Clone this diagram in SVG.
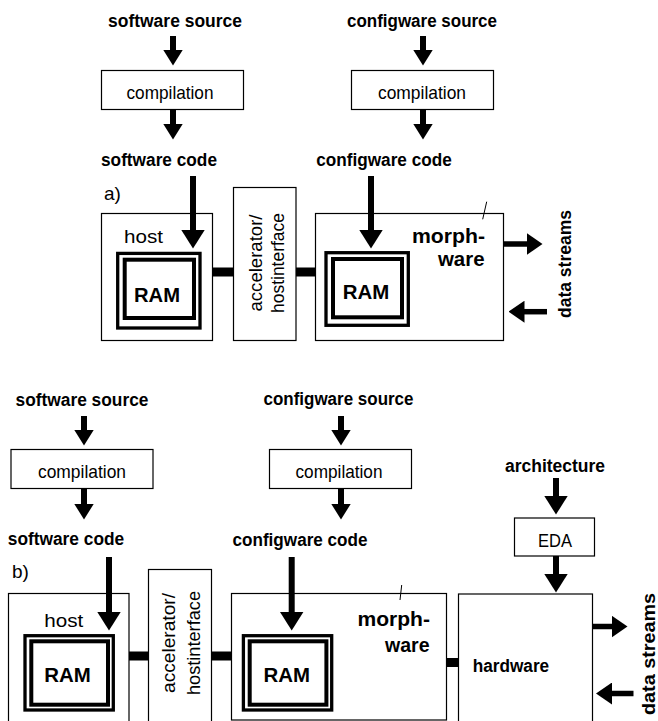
<svg xmlns="http://www.w3.org/2000/svg" width="658" height="721" viewBox="0 0 658 721">
  <style>
    text { font-family: "Liberation Sans", Arial, Helvetica, sans-serif; fill: #000; }
    .b { font-weight: bold; font-size: 18px; }
    .r { font-size: 19px; }
    .ram { font-weight: bold; font-size: 21px; text-anchor: middle; }
    .mw { font-weight: bold; font-size: 21px; text-anchor: end; }
    .c { text-anchor: middle; }
    .box { fill: #fff; stroke: #000; stroke-width: 1.2; }
    .ramo { fill: none; stroke: #000; stroke-width: 3.3; }
    .rami { fill: #fff; stroke: #000; stroke-width: 4; }
    .bar { fill: #000; }
    .shaft { stroke: #000; stroke-width: 6; fill: none; }
    .ds { stroke: #000; stroke-width: 5.5; fill: none; }
    .tick { stroke: #000; stroke-width: 1; }
  </style>
  <defs>
    <marker id="hs" markerUnits="userSpaceOnUse" markerWidth="16" markerHeight="20" viewBox="0 0 16 20" refX="0.5" refY="10" orient="auto">
      <path d="M0,0 L16,10 L0,20 Z" fill="#000"/>
    </marker>
    <marker id="hl" markerUnits="userSpaceOnUse" markerWidth="19" markerHeight="24" viewBox="0 0 19 24" refX="0.5" refY="12" orient="auto">
      <path d="M0,0 L19,12 L0,24 Z" fill="#000"/>
    </marker>
    <marker id="hd" markerUnits="userSpaceOnUse" markerWidth="16" markerHeight="22" viewBox="0 0 16 22" refX="0.5" refY="11" orient="auto">
      <path d="M0,0 L16,11 L0,22 Z" fill="#000"/>
    </marker>
  </defs>

  <!-- ===== a) ===== -->
  <g id="a-sw-source"><text class="b c" x="175" y="27" textLength="134" lengthAdjust="spacingAndGlyphs">software source</text></g>
  <g id="a-sw-compile">
    <rect class="box" x="101.5" y="70.5" width="142" height="39"/>
    <text class="r c" x="170" y="99" textLength="87" lengthAdjust="spacingAndGlyphs">compilation</text>
  </g>
  <g id="a-sw-code"><text class="b c" x="159" y="166" textLength="116" lengthAdjust="spacingAndGlyphs">software code</text></g>
  <g id="a-label"><text class="r" x="104" y="200">a)</text></g>

  <g id="a-cw-source"><text class="b c" x="422" y="27" textLength="150" lengthAdjust="spacingAndGlyphs">configware source</text></g>
  <g id="a-cw-compile">
    <rect class="box" x="351.5" y="70.5" width="142" height="39"/>
    <text class="r c" x="422" y="99" textLength="88" lengthAdjust="spacingAndGlyphs">compilation</text>
  </g>
  <g id="a-cw-code"><text class="b c" x="384" y="166" textLength="135.5" lengthAdjust="spacingAndGlyphs">configware code</text></g>

  <g id="a-host">
    <rect class="box" x="101.5" y="213.5" width="111" height="127"/>
    <text class="r" x="124" y="243" textLength="39" lengthAdjust="spacingAndGlyphs">host</text>
    <rect class="ramo" x="117.7" y="253.4" width="82.3" height="74.6"/>
    <rect class="rami" x="124.7" y="259.7" width="69.3" height="58.3"/>
    <text class="ram" x="157" y="301.5" textLength="46" lengthAdjust="spacingAndGlyphs">RAM</text>
  </g>

  <g id="a-accel">
    <rect class="box" x="233.5" y="187.5" width="62.5" height="153"/>
    <text class="r c" transform="translate(261.5,263) rotate(-90)" textLength="97" lengthAdjust="spacingAndGlyphs">accelerator/</text>
    <text class="r c" transform="translate(283.5,263) rotate(-90)" textLength="100" lengthAdjust="spacingAndGlyphs">hostinterface</text>
  </g>

  <g id="a-morph">
    <rect class="box" x="315.5" y="213.5" width="188" height="127"/>
    <line class="tick" x1="486.7" y1="201.7" x2="482.7" y2="219.3"/>
    <text class="mw" x="485" y="242.5" textLength="73" lengthAdjust="spacingAndGlyphs">morph-</text>
    <text class="mw" x="484.5" y="266" textLength="46.5" lengthAdjust="spacingAndGlyphs">ware</text>
    <rect class="ramo" x="326" y="252.7" width="82.3" height="72.6"/>
    <rect class="rami" x="333" y="259" width="69" height="58.3"/>
    <text class="ram" x="366" y="298.5" textLength="46.5" lengthAdjust="spacingAndGlyphs">RAM</text>
  </g>

  <g id="a-streams"><text class="b c" transform="translate(571,264) rotate(-90)" textLength="108" lengthAdjust="spacingAndGlyphs">data streams</text></g>

  <!-- ===== b) ===== -->
  <g id="b-sw-source"><text class="b c" x="82" y="406" textLength="133" lengthAdjust="spacingAndGlyphs">software source</text></g>
  <g id="b-sw-compile">
    <rect class="box" x="11" y="449.5" width="142" height="39"/>
    <text class="r c" x="82" y="478" textLength="88" lengthAdjust="spacingAndGlyphs">compilation</text>
  </g>
  <g id="b-sw-code"><text class="b c" x="66" y="545" textLength="116.5" lengthAdjust="spacingAndGlyphs">software code</text></g>
  <g id="b-label"><text class="r" x="12" y="578">b)</text></g>

  <g id="b-cw-source"><text class="b c" x="338.5" y="405" textLength="150" lengthAdjust="spacingAndGlyphs">configware source</text></g>
  <g id="b-cw-compile">
    <rect class="box" x="269.5" y="449.5" width="142" height="39"/>
    <text class="r c" x="339" y="478" textLength="87" lengthAdjust="spacingAndGlyphs">compilation</text>
  </g>
  <g id="b-cw-code"><text class="b c" x="300" y="545.5" textLength="135" lengthAdjust="spacingAndGlyphs">configware code</text></g>

  <g id="b-arch"><text class="b c" x="555" y="471.5" textLength="100" lengthAdjust="spacingAndGlyphs">architecture</text></g>
  <g id="b-eda">
    <rect class="box" x="514.5" y="518" width="80" height="38"/>
    <text class="r c" x="555" y="546.5" textLength="34" lengthAdjust="spacingAndGlyphs">EDA</text>
  </g>

  <g id="b-host">
    <rect class="box" x="8.5" y="593.5" width="120.5" height="135"/>
    <text class="r" x="44.3" y="627" textLength="39" lengthAdjust="spacingAndGlyphs">host</text>
    <rect class="ramo" x="25" y="635.7" width="88.3" height="74.3"/>
    <rect class="rami" x="31.3" y="641.3" width="76.7" height="63.4"/>
    <text class="ram" x="67.5" y="682" textLength="46.5" lengthAdjust="spacingAndGlyphs">RAM</text>
  </g>

  <g id="b-accel">
    <rect class="box" x="148.5" y="569.5" width="63" height="160"/>
    <text class="r c" transform="translate(175,643) rotate(-90)" textLength="100" lengthAdjust="spacingAndGlyphs">accelerator/</text>
    <text class="r c" transform="translate(199.5,643) rotate(-90)" textLength="104" lengthAdjust="spacingAndGlyphs">hostinterface</text>
  </g>

  <g id="b-morph">
    <rect class="box" x="231.5" y="593.5" width="215" height="126.5"/>
    <line class="tick" x1="401.7" y1="585" x2="400" y2="600"/>
    <text class="mw" x="430" y="626" textLength="72.5" lengthAdjust="spacingAndGlyphs">morph-</text>
    <text class="mw" x="429.5" y="651.7" textLength="44.5" lengthAdjust="spacingAndGlyphs">ware</text>
    <rect class="ramo" x="243.4" y="635.7" width="88.3" height="74.3"/>
    <rect class="rami" x="249.7" y="641.3" width="76.7" height="63.4"/>
    <text class="ram" x="286.7" y="682" textLength="46.5" lengthAdjust="spacingAndGlyphs">RAM</text>
  </g>

  <g id="b-hardware">
    <rect class="box" x="458.5" y="594" width="134" height="135"/>
    <text class="b" x="472.7" y="671.7" textLength="76.5" lengthAdjust="spacingAndGlyphs">hardware</text>
  </g>

  <g id="b-streams"><text class="b c" transform="translate(655,654) rotate(-90)" style="font-size:19px" textLength="122" lengthAdjust="spacingAndGlyphs">data streams</text></g>

  <!-- ===== connectors ===== -->
  <g id="connectors">
    <!-- a) software flow -->
    <line class="shaft" x1="173" y1="36" x2="173" y2="50" marker-end="url(#hs)"/>
    <line class="shaft" x1="173" y1="109.5" x2="173" y2="124" marker-end="url(#hs)"/>
    <line class="shaft" x1="193" y1="176" x2="193" y2="230" marker-end="url(#hl)"/>
    <!-- a) configware flow -->
    <line class="shaft" x1="423" y1="36" x2="423" y2="50" marker-end="url(#hs)"/>
    <line class="shaft" x1="423" y1="109.5" x2="423" y2="124" marker-end="url(#hs)"/>
    <line class="shaft" x1="371" y1="176" x2="371" y2="230" marker-end="url(#hl)"/>
    <!-- a) buses -->
    <rect class="bar" x="212.5" y="267.5" width="21" height="9"/>
    <rect class="bar" x="296" y="267.5" width="20" height="9"/>
    <!-- a) data streams -->
    <line class="ds" x1="504" y1="244" x2="527" y2="244" marker-end="url(#hd)"/>
    <line class="ds" x1="547" y1="311.7" x2="524" y2="311.7" marker-end="url(#hd)"/>

    <!-- b) software flow -->
    <line class="shaft" x1="84" y1="416" x2="84" y2="430" marker-end="url(#hs)"/>
    <line class="shaft" x1="84" y1="488.5" x2="84" y2="504" marker-end="url(#hs)"/>
    <line class="shaft" x1="109" y1="557" x2="109" y2="612" marker-end="url(#hl)"/>
    <!-- b) configware flow -->
    <line class="shaft" x1="341" y1="416" x2="341" y2="430" marker-end="url(#hs)"/>
    <line class="shaft" x1="341" y1="488.5" x2="341" y2="504" marker-end="url(#hs)"/>
    <line class="shaft" x1="291.7" y1="557" x2="291.7" y2="612" marker-end="url(#hl)"/>
    <!-- b) architecture flow -->
    <line class="shaft" x1="556" y1="478" x2="556" y2="496" marker-end="url(#hl)"/>
    <line class="shaft" x1="556" y1="556" x2="556" y2="574" marker-end="url(#hl)"/>
    <!-- b) buses -->
    <rect class="bar" x="129" y="651.5" width="19.5" height="9"/>
    <rect class="bar" x="211.5" y="651.5" width="20" height="9"/>
    <rect class="bar" x="446.5" y="658" width="12" height="9"/>
    <!-- b) data streams -->
    <line class="ds" x1="592.7" y1="626.5" x2="612" y2="626.5" marker-end="url(#hd)"/>
    <line class="ds" x1="633.5" y1="693.5" x2="611.5" y2="693.5" marker-end="url(#hd)"/>
  </g>
</svg>
